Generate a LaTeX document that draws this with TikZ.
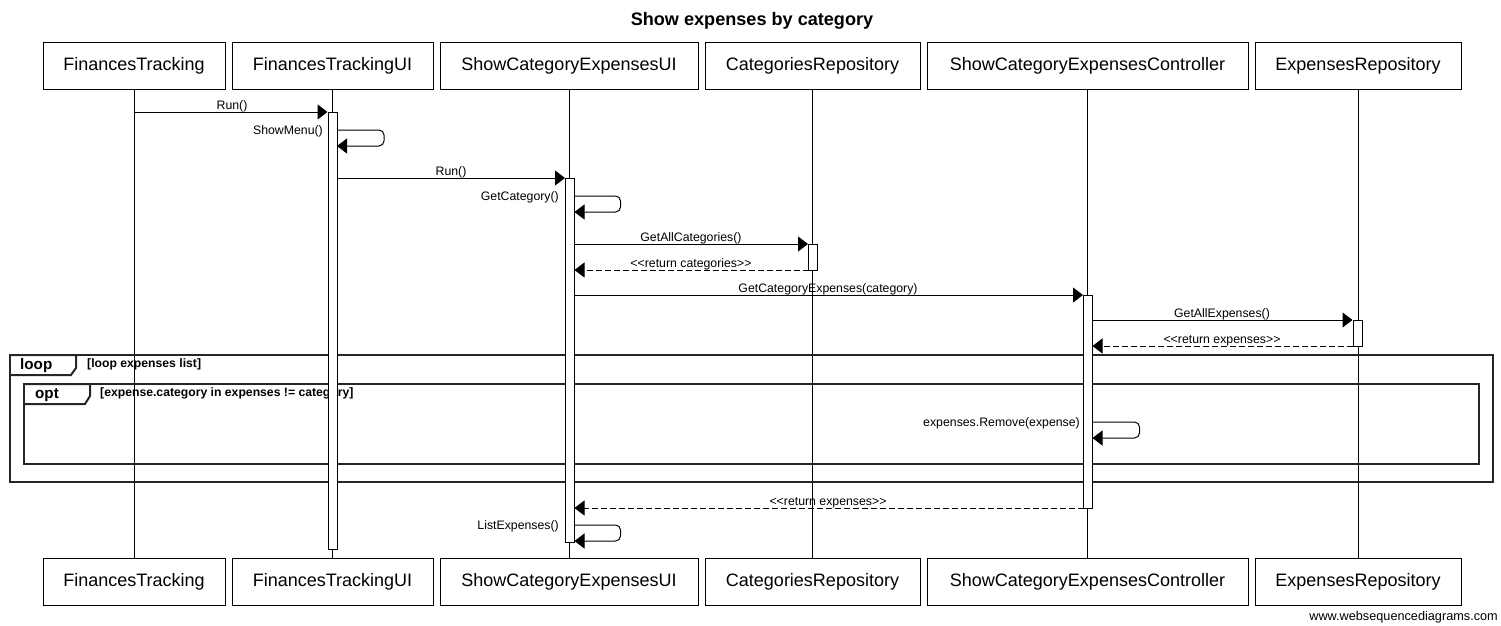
\documentclass[tikz,border=0pt]{standalone}
\usepackage{fontspec}
\setmainfont{Liberation Sans}
\usetikzlibrary{arrows.meta}
\begin{document}
\begin{tikzpicture}[x=1pt,y=-1pt,
  part/.style={draw, line width=1pt, minimum height=47pt, inner sep=0pt, fill=white,
    font=\fontsize{18}{20}\selectfont},
  life/.style={line width=1pt},
  act/.style={draw, fill=white, line width=1pt, inner sep=0pt, minimum width=9pt},
  msg/.style={line width=1pt, -{Triangle[length=10pt,width=15pt]}},
  ret/.style={msg, dash pattern=on 6pt off 3pt},
  selfmsg/.style={msg, rounded corners=5pt},
  lbl/.style={font=\fontsize{12.3}{14}\selectfont, inner sep=0pt},
  framebox/.style={draw=black!85, line width=2.2pt},
  frametab/.style={draw=black!85, line width=2pt},
  tablbl/.style={font=\bfseries\fontsize{15.2}{17}\selectfont, inner sep=0pt, anchor=base west},
  condlbl/.style={font=\bfseries\fontsize{12.2}{14}\selectfont, inner sep=0pt, anchor=base west}
]
\useasboundingbox (0,0) rectangle (1501,625);

% title
\node[font=\bfseries\fontsize{18.1}{20}\selectfont, inner sep=0pt] (title) at (752,21) {Show expenses by category};

% participants top
\node[part, minimum width=182pt] (p1t) at (134,65.5) {FinancesTracking};
\node[part, minimum width=201pt] (p2t) at (332.5,65.5) {FinancesTrackingUI};
\node[part, minimum width=258pt] (p3t) at (569,65.5) {ShowCategoryExpensesUI};
\node[part, minimum width=215pt] (p4t) at (812.5,65.5) {CategoriesRepository};
\node[part, minimum width=321pt] (p5t) at (1087.5,65.5) {ShowCategoryExpensesController};
\node[part, minimum width=206pt] (p6t) at (1358,65.5) {ExpensesRepository};
% participants bottom
\node[part, minimum width=182pt] (p1b) at (134,581.5) {FinancesTracking};
\node[part, minimum width=201pt] (p2b) at (332.5,581.5) {FinancesTrackingUI};
\node[part, minimum width=258pt] (p3b) at (569,581.5) {ShowCategoryExpensesUI};
\node[part, minimum width=215pt] (p4b) at (812.5,581.5) {CategoriesRepository};
\node[part, minimum width=321pt] (p5b) at (1087.5,581.5) {ShowCategoryExpensesController};
\node[part, minimum width=206pt] (p6b) at (1358,581.5) {ExpensesRepository};

% lifelines
\draw[life] (p1t.south) -- (p1b.north);
\draw[life] (p2t.south) -- (p2b.north);
\draw[life] (p3t.south) -- (p3b.north);
\draw[life] (p4t.south) -- (p4b.north);
\draw[life] (p5t.south) -- (p5b.north);
\draw[life] (p6t.south) -- (p6b.north);

% frames
\draw[framebox] (10,355) rectangle (1493,482);
\draw[frametab] (10,355) -- (76,355) -- (76,368) -- (71,375) -- (10,375);
\node[tablbl] (looplbl) at (20,369) {loop};
\node[condlbl] (loopcond) at (87,367) {[loop expenses list]};
\draw[framebox] (24,384) rectangle (1479,464);
\draw[frametab] (24,384) -- (90,384) -- (90,396) -- (85,404) -- (24,404);
\node[tablbl] (optlbl) at (35,398) {opt};
\node[condlbl] (optcond) at (100,396) {[expense.category in expenses != category]};

% activation bars
\node[act, minimum height=437pt, anchor=north] (a2) at (332.5,112) {};
\node[act, minimum height=364pt, anchor=north] (a3) at (570,178) {};
\node[act, minimum height=26pt, anchor=north] (a4) at (813,244) {};
\node[act, minimum height=213pt, anchor=north] (a5) at (1088,295) {};
\node[act, minimum height=26pt, anchor=north] (a6) at (1357.5,320) {};

% message end points
\coordinate (m1s) at (134,112);
\coordinate (s1a) at (337,130);
\coordinate (s1b) at (337,146);
\coordinate (m3s) at (337,178);
\coordinate (s2a) at (574.5,196);
\coordinate (s2b) at (574.5,212);
\coordinate (m5s) at (574.5,244);
\coordinate (m6e) at (574.5,270);
\coordinate (m6s) at (808.5,270);
\coordinate (m7s) at (574.5,295);
\coordinate (m8s) at (1092.5,320);
\coordinate (m9s) at (1353,346);
\coordinate (m9e) at (1092.5,346);
\coordinate (s3a) at (1092.5,422);
\coordinate (s3b) at (1092.5,438);
\coordinate (m11s) at (1083.5,508);
\coordinate (m11e) at (574.5,508);
\coordinate (s4a) at (574.5,525);
\coordinate (s4b) at (574.5,541);

% messages
\draw[msg] (m1s) -- (a2.north west);
\node[lbl, anchor=base] (l1) at (232,109) {Run()};

\draw[selfmsg] (s1a) -- ++(47,0) -- ++(0,16) -- (s1b);
\node[lbl, anchor=base east] (l2) at (323,134.5) {ShowMenu()};

\draw[msg] (m3s) -- (a3.north west);
\node[lbl, anchor=base] (l3) at (451,175) {Run()};

\draw[selfmsg] (s2a) -- ++(46,0) -- ++(0,16) -- (s2b);
\node[lbl, anchor=base east] (l4) at (559,200.5) {GetCategory()};

\draw[msg] (m5s) -- (a4.north west);
\node[lbl, anchor=base] (l5) at (691,241) {GetAllCategories()};

\draw[ret] (m6s) -- (m6e);
\node[lbl, anchor=base] (l6) at (691,267) {<{}<return categories>{}>};

\draw[msg] (m7s) -- (a5.north west);
\node[lbl, anchor=base] (l7) at (828,292) {GetCategoryExpenses(category)};

\draw[msg] (m8s) -- (a6.north west);
\node[lbl, anchor=base] (l8) at (1222,317) {GetAllExpenses()};

\draw[ret] (m9s) -- (m9e);
\node[lbl, anchor=base] (l9) at (1222,343) {<{}<return expenses>{}>};

\draw[selfmsg] (s3a) -- ++(47,0) -- ++(0,16) -- (s3b);
\node[lbl, anchor=base east] (l10) at (1080,426.5) {expenses.Remove(expense)};

\draw[ret] (m11s) -- (m11e);
\node[lbl, anchor=base] (l11) at (828,505) {<{}<return expenses>{}>};

\draw[selfmsg] (s4a) -- ++(46,0) -- ++(0,16) -- (s4b);
\node[lbl, anchor=base east] (l12) at (559,529.5) {ListExpenses()};

% credit
\node[font=\fontsize{12.7}{14}\selectfont, inner sep=0pt, anchor=base east] (credit) at (1498,620) {www.websequencediagrams.com};
\end{tikzpicture}
\end{document}
